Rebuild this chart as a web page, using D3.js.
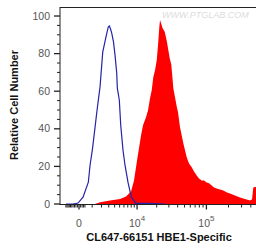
<!DOCTYPE html>
<html>
<head>
<meta charset="utf-8">
<script src="https://cdn.jsdelivr.net/npm/d3@7"></script>
<style>
  body { margin: 0; background: #fff; }
  svg text { font-family: "Liberation Sans", Arial, sans-serif; }
</style>
</head>
<body>
<div id="chart"></div>
<script>
// control histogram (blue outline): [fluorescence, relative count]
const controlFluor = [-988, -407, -63, 263, 665, 808, 1034, 1277, 1486, 1824, 2156, 2602, 2940, 3096, 3288, 3486, 3800, 4075, 4403, 4524, 4938, 5244, 5776, 6274, 7074, 8048, 9616, 15893, 26424];
const controlCount = [0, 0, 0.5, 3.6, 11.6, 20.5, 29.6, 40.8, 49.9, 62.3, 80.8, 89.0, 94.3, 94.7, 93.1, 90.9, 86.1, 79.2, 69.6, 61.6, 55.2, 41.9, 28.5, 20.5, 11.5, 3.6, 0.3, 0.3, 0];

// stained sample histogram (red fill)
const sampleFluor = [1277, 1824, 3207, 5089, 6532, 7954, 8920, 9980, 11556, 12418, 13816, 14824, 15896, 16860, 17814, 18882, 20006, 20908, 21846, 22364, 23362, 24320, 26170, 27964, 29190, 30872, 32536, 33838, 34734, 36714, 38796, 40470, 43172, 48012, 53550, 57636, 62818, 67584, 73630, 79196, 86254, 92748, 100988, 108554, 118174, 127020, 138220, 153280, 169920, 190700, 209400, 244600, 285800, 333800, 389800, 414800, 431800, 455200, 469600];
const sampleCount = [0, 0.96, 1.87, 2.67, 4.0, 6.67, 12.5, 23.2, 36.5, 41.9, 46.1, 49.9, 56.3, 60.5, 67.5, 71.2, 76.5, 84.5, 94.1, 97.9, 95.7, 93.6, 91.6, 86.9, 82.9, 77.6, 74.1, 66.7, 61.6, 56.8, 51.9, 48.8, 40.8, 32.3, 24.9, 21.6, 19.5, 17.3, 15.2, 13.6, 12.5, 12.5, 11.5, 11.0, 9.9, 8.8, 8.3, 7.7, 7.2, 6.1, 5.6, 4.5, 3.5, 2.7, 1.9, 2.4, 8.8, 9.1, 9.1];

const yTicks = [0, 20, 40, 60, 80, 100];
const yMinorTicks = [5, 10, 15, 25, 30, 35, 45, 50, 55, 65, 70, 75, 85, 90, 95];
const xMajorTicks = [0, 1e4, 1e5];
const xMajorLabels = [["0", ""], ["10", "4"], ["10", "5"]];
const xMinorTicks = [-1000, -900, -800, -700, -600, -500, -400, -300, -200, -100, 100, 200, 300, 400,
  1000, 2000, 3000, 4000, 5000, 6000, 7000, 8000, 9000,
  20000, 30000, 40000, 50000, 60000, 70000, 80000, 90000,
  200000, 300000, 400000];

const xTitle = "CL647-66151 HBE1-Specific";
const yTitle = "Relative Cell Number";
const watermark = "WWW.PTGLAB.COM";

const width = 256, height = 251;
const plotLeft = 60, plotRight = 256, plotTop = 7, plotBottom = 204;

const svg = d3.select("#chart").append("svg")
    .attr("width", width)
    .attr("height", height);

const x = d3.scaleSymlog().constant(2000)
    .domain([-1600, 469600])
    .range([plotLeft, plotRight]);

const y = d3.scaleLinear()
    .domain([0, 104.8])
    .range([plotBottom, plotTop]);

svg.append("clipPath").attr("id", "plotClip")
  .append("rect")
    .attr("x", plotLeft).attr("y", plotTop)
    .attr("width", plotRight - plotLeft).attr("height", plotBottom - plotTop);

const plot = svg.append("g").attr("clip-path", "url(#plotClip)");

const sample = sampleFluor.map((v, i) => [v, sampleCount[i]]);
const control = controlFluor.map((v, i) => [v, controlCount[i]]);

plot.append("path")
    .datum(sample)
    .attr("fill", "#ff0000")
    .attr("d", d3.area().x(d => x(d[0])).y0(y(0)).y1(d => y(d[1])));

plot.append("path")
    .datum(control)
    .attr("fill", "none")
    .attr("stroke", "#2424a8")
    .attr("stroke-width", 1.2)
    .attr("d", d3.line().x(d => x(d[0])).y(d => y(d[1])));

// watermark
svg.append("text")
    .attr("x", 162)
    .attr("y", 18)
    .attr("font-size", 9)
    .attr("font-style", "italic")
    .attr("fill", "#dcdcdc")
    .text(watermark);

// frame: top line
svg.append("line")
    .attr("x1", plotLeft).attr("x2", plotRight)
    .attr("y1", plotTop + 0.5).attr("y2", plotTop + 0.5)
    .attr("stroke", "#222");

// y axis
const yAxis = svg.append("g").attr("transform", `translate(${plotLeft},0)`);
yAxis.append("line")
    .attr("x1", 0).attr("x2", 0)
    .attr("y1", plotTop).attr("y2", plotBottom + 1)
    .attr("stroke", "#222");
yAxis.selectAll(".minor").data(yMinorTicks).enter().append("line")
    .attr("x1", -3).attr("x2", 0)
    .attr("y1", d => y(d)).attr("y2", d => y(d))
    .attr("stroke", "#222");
yAxis.selectAll(".major").data(yTicks).enter().append("line")
    .attr("x1", -6).attr("x2", 0)
    .attr("y1", d => y(d)).attr("y2", d => y(d))
    .attr("stroke", "#222")
    .attr("stroke-width", 1.3);
yAxis.selectAll(".lab").data(yTicks).enter().append("text")
    .attr("x", -10)
    .attr("y", d => y(d))
    .attr("dy", "0.35em")
    .attr("text-anchor", "end")
    .attr("font-size", 10.5)
    .attr("fill", "#555")
    .text(d => d);

// x axis
const xAxis = svg.append("g").attr("transform", `translate(0,${plotBottom + 0.5})`);
xAxis.append("line")
    .attr("x1", plotLeft).attr("x2", plotRight)
    .attr("stroke", "#222");
xAxis.selectAll(".minor").data(xMinorTicks).enter().append("line")
    .attr("x1", d => x(d)).attr("x2", d => x(d))
    .attr("y1", 0).attr("y2", 3)
    .attr("stroke", "#222");
xAxis.selectAll(".major").data(xMajorTicks).enter().append("line")
    .attr("x1", d => x(d)).attr("x2", d => x(d))
    .attr("y1", 0).attr("y2", 5)
    .attr("stroke", "#222")
    .attr("stroke-width", 1.3);
const xLab = xAxis.selectAll(".lab").data(xMajorTicks).enter().append("text")
    .attr("x", d => x(d))
    .attr("y", 22)
    .attr("text-anchor", "middle")
    .attr("font-size", 10.5)
    .attr("fill", "#555");
xLab.append("tspan").text((d, i) => xMajorLabels[i][0]);
xLab.append("tspan")
    .attr("dy", -6)
    .attr("font-size", 8)
    .text((d, i) => xMajorLabels[i][1]);

// titles
svg.append("text")
    .attr("x", 159)
    .attr("y", 241)
    .attr("text-anchor", "middle")
    .attr("font-size", 11)
    .attr("font-weight", "bold")
    .attr("fill", "#111")
    .text(xTitle);

svg.append("text")
    .attr("transform", "translate(18,105) rotate(-90)")
    .attr("text-anchor", "middle")
    .attr("font-size", 11)
    .attr("font-weight", "bold")
    .attr("fill", "#111")
    .text(yTitle);
</script>
</body>
</html>
